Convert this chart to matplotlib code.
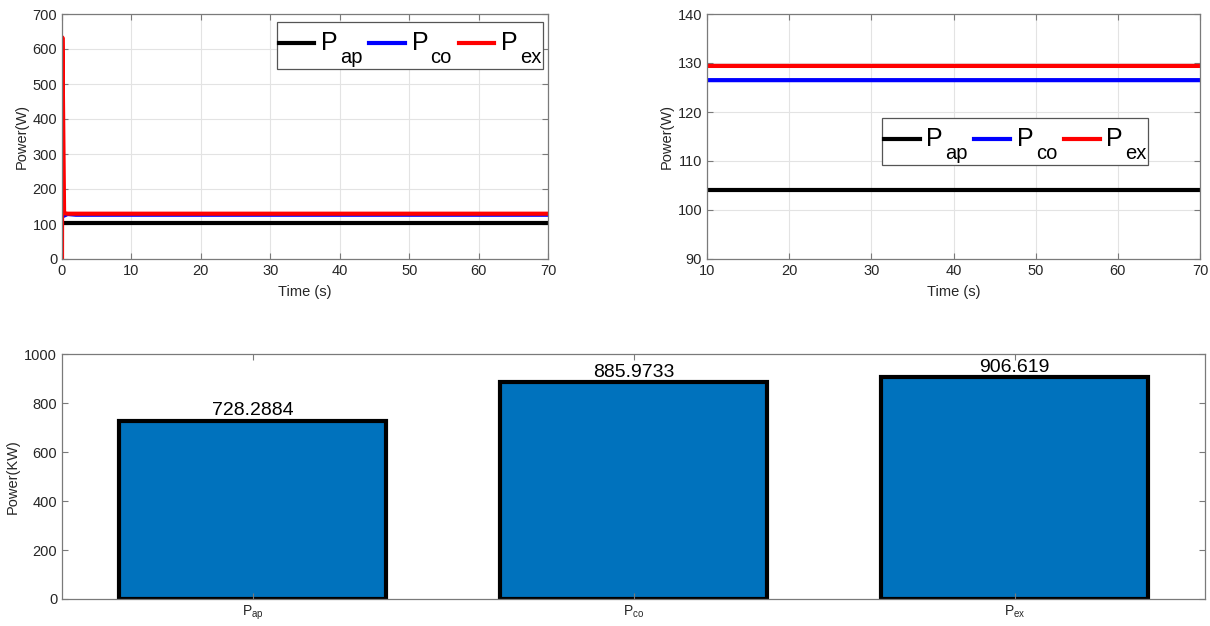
import numpy as np
import matplotlib
matplotlib.use("Agg")
import matplotlib.pyplot as plt

plt.rcParams['font.family'] = ['Liberation Sans', 'DejaVu Sans']
plt.rcParams['mathtext.fontset'] = 'custom'
plt.rcParams['mathtext.rm'] = 'Liberation Sans'
plt.rcParams['mathtext.it'] = 'Liberation Sans:italic'

# time series
t_ap = [0.3, 70]
p_ap = [104.1, 104.1]
t_co = [0.3, 0.8, 2.0, 70]
p_co = [124.0, 128.5, 126.5, 126.5]
t_ex = [0.0, 0.05, 0.3, 0.8, 70]
p_ex = [0.0, 633.0, 131.0, 129.4, 129.4]
series_subs = ['ap', 'co', 'ex']

# bar data
bar_names = ['ap', 'co', 'ex']
bar_values = [728.2884, 885.9733, 906.619]

W, H = 1210, 626
fig = plt.figure(figsize=(W / 100, H / 100), dpi=100)

def px_axes(l, t, r, b):
    return fig.add_axes([l / W, 1 - b / H, (r - l) / W, (b - t) / H])

axis_col = '#262626'
spine_col = '#7a7a7a'
tick_fs = 10.5
sub_fs = 14.5   # legend subscript size
big_fs = 18     # legend "P" size

def style(ax, grid=True):
    for s in ax.spines.values():
        s.set_color(spine_col)
        s.set_linewidth(0.9)
    ax.tick_params(direction='in', top=True, right=True, colors=spine_col,
                   labelcolor=axis_col, labelsize=tick_fs, length=4, width=0.8)
    if grid:
        ax.grid(True, color='#e3e3e3', linewidth=0.8)
        ax.set_axisbelow(True)

def draw_lines(ax):
    # label = dropped subscript; the big "P" is added next to it afterwards
    ax.plot(t_ap, p_ap, color='black', lw=3, label='\u00a0\n' + series_subs[0])
    ax.plot(t_co, p_co, color='blue', lw=3, label='\u00a0\n' + series_subs[1])
    ax.plot(t_ex, p_ex, color='red', lw=3, label='\u00a0\n' + series_subs[2])

def add_legend(ax, anchor):
    leg = ax.legend(loc='upper right', bbox_to_anchor=anchor, ncol=3,
                    fontsize=sub_fs, handlelength=1.78, handleheight=1.7,
                    handletextpad=1.27, columnspacing=0.33, borderaxespad=0,
                    borderpad=0.08, fancybox=False, framealpha=1,
                    edgecolor='#555555')
    leg.get_frame().set_linewidth(0.9)
    for txt in leg.get_texts():
        txt.set_linespacing(1.35)
        ax.annotate('P', xy=(0, 1), xycoords=txt, xytext=(-13.6, -19.2),
                    textcoords='offset points', fontsize=big_fs, color='black',
                    ha='left', va='baseline', zorder=10)

# top left
ax1 = px_axes(62, 14, 548, 259)
draw_lines(ax1)
ax1.set_xlim(0, 70)
ax1.set_ylim(0, 700)
ax1.set_xticks(np.arange(0, 71, 10))
ax1.set_yticks(np.arange(0, 701, 100))
ax1.set_xlabel('Time (s)', fontsize=tick_fs, color=axis_col, labelpad=5)
ax1.set_ylabel('Power(W)', fontsize=tick_fs, color=axis_col, labelpad=3)
style(ax1)
add_legend(ax1, (0.9897, 0.967))

# top right
ax2 = px_axes(707, 14, 1200, 259)
draw_lines(ax2)
ax2.set_xlim(10, 70)
ax2.set_ylim(90, 140)
ax2.set_xticks(np.arange(10, 71, 10))
ax2.set_yticks(np.arange(90, 141, 10))
ax2.set_xlabel('Time (s)', fontsize=tick_fs, color=axis_col, labelpad=5)
ax2.set_ylabel('Power(W)', fontsize=tick_fs, color=axis_col, labelpad=3)
style(ax2)
add_legend(ax2, (0.895, 0.575))

# bottom bars
ax3 = px_axes(62, 354, 1205, 599)
x = np.arange(1, len(bar_values) + 1)
ax3.bar(x, bar_values, width=0.7, color='#0072BD', edgecolor='black', linewidth=3)
for xi, v in zip(x, bar_values):
    ax3.text(xi, v + 5, str(v), ha='center', va='bottom', fontsize=14, color='black')
ax3.set_xlim(0.5, 3.5)
ax3.set_ylim(0, 1000)
ax3.set_yticks(np.arange(0, 1001, 200))
ax3.set_xticks(x)
ax3.set_xticklabels([r'P$_{\mathregular{%s}}$' % n for n in bar_names])
ax3.set_ylabel('Power(KW)', fontsize=tick_fs, color=axis_col, labelpad=3)
style(ax3, grid=False)
ax3.tick_params(axis='x', labelsize=10)

fig.savefig('out.png', dpi=100)
